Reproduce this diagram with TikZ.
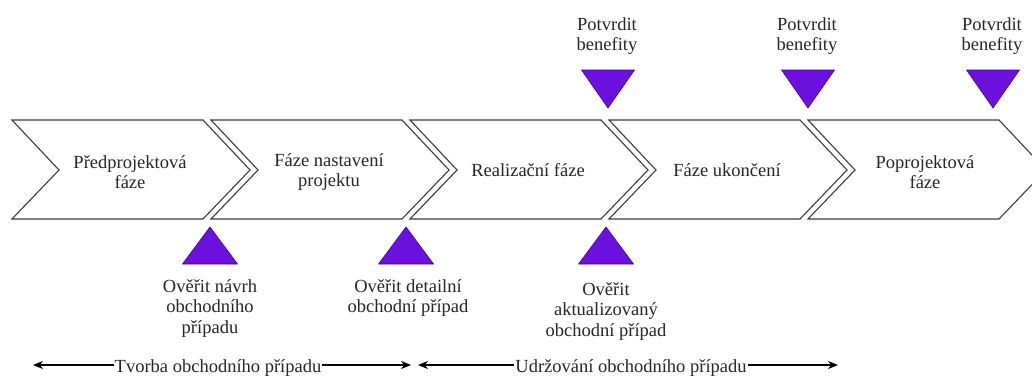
\documentclass[tikz,border=0pt]{standalone}
\usepackage{fontspec}
\setmainfont{Liberation Serif}
\newfontfamily\tnr{Liberation Serif}
\usetikzlibrary{arrows.meta}
\definecolor{chevline}{RGB}{60,60,60}
\definecolor{milestone}{RGB}{108,16,222}
\definecolor{milestoneedge}{RGB}{70,0,150}
\tikzset{
  chevron/.style={draw=chevline, line width=1.1pt, fill=white, line join=miter},
  ms/.style={fill=milestone, draw=milestoneedge, line width=0.6pt, line join=round},
  lbl/.style={font=\tnr\fontsize{18.5}{20.5}\selectfont, align=center, inner sep=0pt, text=black!85},
  span/.style={draw=black, line width=1.2pt, -{Stealth[length=10pt,width=8pt]}},
}
\begin{document}
\begin{tikzpicture}[x=1pt,y=-1pt]
\useasboundingbox (0,0) rectangle (1032,376);
\clip (0,0) rectangle (1032,376);
\fill[white] (0,0) rectangle (1032,376);
% chevrons
\foreach \L in {12,211,410,609,808} {
  \draw[chevron] (\L,120) -- ++(191,0) -- ++(47,50) -- ++(-47,49) -- ++(-191,0) -- ++(47,-49) -- cycle;
}
\node[lbl] (c1) at (130,172) {Předprojektová\\fáze};
\node[lbl] (c2) at (329,172) {Fáze nastavení\\projektu};
\node[lbl] (c3) at (528,170) {Realizační fáze};
\node[lbl] (c4) at (727,170) {Fáze ukončení};
\node[lbl] (c5) at (925,172) {Poprojektová\\fáze};
% milestones below (up triangles)
\foreach \x in {210,406,606} {
  \draw[ms] (\x,227) -- (\x+27.5,264) -- (\x-27.5,264) -- cycle;
}
% milestones above (down triangles)
\foreach \x in {608,808,993} {
  \draw[ms] (\x-26.5,70) -- (\x+26.5,70) -- (\x,108) -- cycle;
}
% top labels
\node[lbl, anchor=north] (b1) at (607,17) {Potvrdit\\benefity};
\node[lbl, anchor=north] (b2) at (807,17) {Potvrdit\\benefity};
\node[lbl, anchor=north] (b3) at (992,17) {Potvrdit\\benefity};
% bottom labels
\node[lbl, anchor=north] (o1) at (210,279) {Ověřit návrh\\obchodního\\případu};
\node[lbl, anchor=north] (o2) at (408,279) {Ověřit detailní\\obchodní případ};
\node[lbl, anchor=north] (o3) at (606,282) {Ověřit\\aktualizovaný\\obchodní případ};
% span arrows
\coordinate (t1l) at (33,365);
\coordinate (t1r) at (411,365);
\node[lbl, anchor=base, inner sep=1pt] (t1) at (218,372) {Tvorba obchodního případu};
\draw[span] (t1.west |- t1l) -- (t1l);
\draw[span] (t1.east |- t1r) -- (t1r);
\coordinate (t2l) at (418,365);
\coordinate (t2r) at (838,365);
\node[lbl, anchor=base, inner sep=1pt] (t2) at (631,372) {Udržování obchodního případu};
\draw[span] (t2.west |- t2l) -- (t2l);
\draw[span] (t2.east |- t2r) -- (t2r);
\end{tikzpicture}
\end{document}
